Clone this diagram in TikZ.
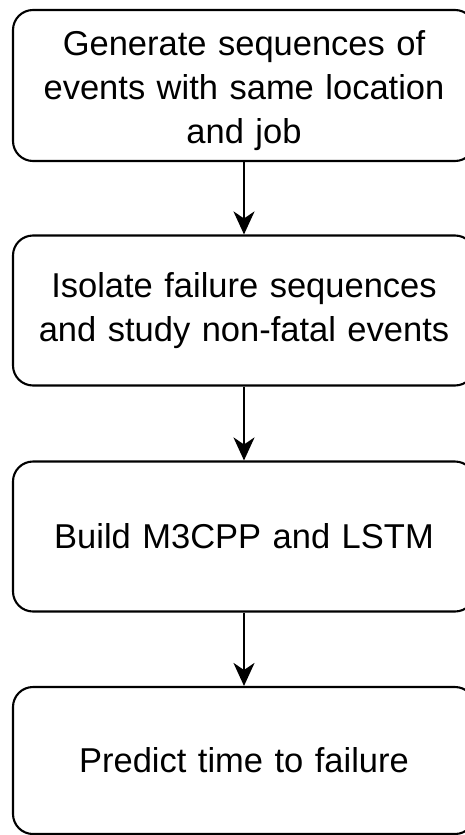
\documentclass[tikz,border=0pt]{standalone}
\usepackage{fontspec}
\setmainfont{Liberation Sans}
\usepackage{tikz}
\usetikzlibrary{arrows.meta}
\pgfdeclarelayer{nodelayer}
\pgfdeclarelayer{edgelayer}
\pgfsetlayers{nodelayer,edgelayer,main}
\tikzset{
  stepbox/.style={rectangle, draw, line width=2.1pt, rounded corners=20pt,
    minimum width=462pt, minimum height=150pt, text width=455pt, align=center,
    font=\fontsize{34.5}{44}\selectfont},
  flow/.style={line width=2.1pt, -{Stealth[length=23pt,width=21pt,inset=7pt]}}
}

\begin{document}
\begin{tikzpicture}[x=1pt, y=1pt]
  \useasboundingbox (0, 0) rectangle (464, -835);
  \begin{pgfonlayer}{nodelayer}
    \node [stepbox, minimum height=151pt] (0) at (244, -85.5) {\rule{0pt}{36pt}Generate sequences of\\events with same location\\and job};
    \node [stepbox] (1) at (244, -310.5) {Isolate failure sequences\\and study non-fatal events};
    \node [stepbox] (2) at (244, -536.5) {Build M3CPP and LSTM};
    \node [stepbox, minimum height=147pt] (3) at (244, -760.5) {Predict time to failure};
  \end{pgfonlayer}
  \begin{pgfonlayer}{edgelayer}
    \draw [flow] (0) to (1);
    \draw [flow] (1) to (2);
    \draw [flow] (2) to (3);
  \end{pgfonlayer}
\end{tikzpicture}
\end{document}
